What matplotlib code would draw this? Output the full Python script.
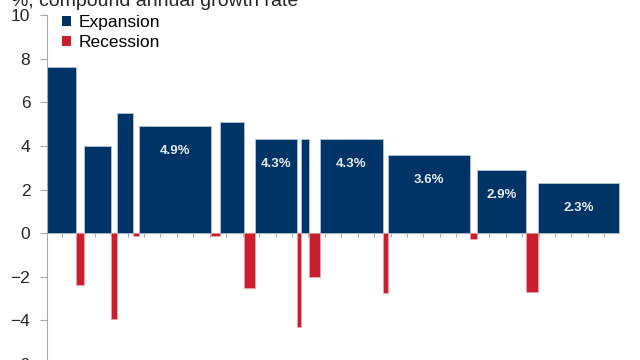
import numpy as np
import matplotlib as mpl
mpl.use('Agg')
import matplotlib.pyplot as plt
from matplotlib.patches import Patch

plt.rcParams["font.family"] = ["Liberation Sans", "DejaVu Sans"]

# Expansions (start, end in decimal years) and compound annual growth rate
exp_start = [1949.5, 1954.0, 1958.0, 1960.75, 1970.5, 1974.8, 1980.4, 1982.7, 1991.0, 2001.85, 2009.25]
exp_end = [1953.0, 1957.3, 1960.0, 1969.5, 1973.5, 1979.9, 1981.4, 1990.4, 2001.0, 2007.8, 2019.1]
exp_rate = [7.6, 4.0, 5.5, 4.9, 5.1, 4.3, 4.3, 4.3, 3.6, 2.9, 2.3]
exp_label = [None, None, None, "4.9%", None, "4.3%", None, "4.3%", "3.6%", "2.9%", "2.3%"]

# Recessions
rec_start = [1953.0, 1957.3, 1960.0, 1969.5, 1973.5, 1979.9, 1981.4, 1990.4, 2001.0, 2007.8]
rec_end = [1954.0, 1958.0, 1960.75, 1970.5, 1974.8, 1980.4, 1982.7, 1991.0, 2001.85, 2009.25]
rec_rate = [-2.4, -3.95, -0.15, -0.15, -2.5, -4.3, -2.0, -2.75, -0.25, -2.7]

blue = '#003366'
red = '#c81e2d'
grey = '#a8a8a8'
fontsize = 12.5

fig = plt.figure(figsize=(6.4, 3.6), dpi=100)
# axes: left spine at x=47px, y=10 at 15px, y=-6 at 364px (below the frame)
ax = fig.add_axes([47/640., -4/360., 1 - 47/640., 349/360.])

ew = np.array(exp_end) - np.array(exp_start)
rw = np.array(rec_end) - np.array(rec_start)
bars = ax.bar(exp_start, exp_rate, width=ew, align='edge', color=blue,
              edgecolor='#b4c3d6', linewidth=0.6, zorder=2)
ax.bar(rec_start, rec_rate, width=rw, align='edge', color=red,
       edgecolor='#f0b0b0', linewidth=0.4, zorder=2)

for b, lab in zip(bars, exp_label):
    if lab is None:
        continue
    ax.annotate(lab, (b.get_x() + b.get_width()/2., b.get_height()),
                xytext=(0, -18), textcoords='offset points', ha='center', va='center',
                color='#e8ecf2', fontsize=9.5, fontweight='bold', zorder=3)

ax.set_xlim(1949.5, 1949.5 + (640 - 47)/8.22)
ax.set_ylim(-6, 10)
ax.set_yticks(np.arange(-6, 11, 2))
ax.set_xticks(np.arange(1951.3, 2019, 2.0))
ax.set_xticklabels([])

ax.spines['top'].set_visible(False)
ax.spines['right'].set_visible(False)
ax.spines['left'].set_color(grey)
ax.spines['bottom'].set_position(('data', 0))
ax.spines['bottom'].set_bounds(1949.5, 2019.1)
ax.spines['bottom'].set_color(grey)
ax.spines['bottom'].set_zorder(1)
ax.tick_params(axis='y', direction='out', length=5, color=grey, labelsize=fontsize,
               labelcolor='#262626', pad=7)
ax.tick_params(axis='x', direction='out', length=3, color=grey)

fig.text(11/640., 1 - 6/360., "%, compound annual growth rate", fontsize=14,
         color='#262626', ha='left', va='baseline')

handles = [Patch(facecolor=blue, label='Expansion'), Patch(facecolor=red, label='Recession')]
ax.legend(handles=handles, loc='upper left', bbox_to_anchor=(62/640., 1 - 15/360.),
          bbox_transform=fig.transFigure, frameon=False, fontsize=fontsize,
          handlelength=0.5, handleheight=0.5, handletextpad=0.45, labelspacing=0.3,
          borderaxespad=0, borderpad=0)

plt.savefig('out.png', dpi=100)
